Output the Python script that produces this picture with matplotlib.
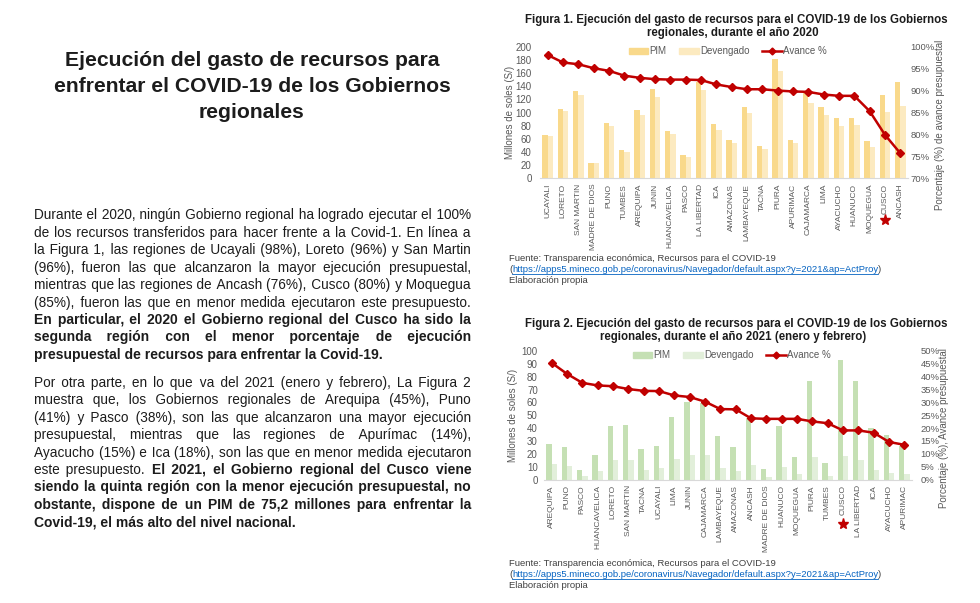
import matplotlib.pyplot as plt
from matplotlib.lines import Line2D
from matplotlib.patches import Patch
from matplotlib.ticker import FuncFormatter

W, H = 980, 603

# Figura 1 (2020)
reg20 = ['UCAYALI', 'LORETO', 'SAN MARTIN', 'MADRE DE DIOS', 'PUNO', 'TUMBES', 'AREQUIPA',
         'JUNIN', 'HUANCAVELICA', 'PASCO', 'LA LIBERTAD', 'ICA', 'AMAZONAS', 'LAMBAYEQUE',
         'TACNA', 'PIURA', 'APURIMAC', 'CAJAMARCA', 'LIMA', 'AYACUCHO', 'HUANUCO',
         'MOQUEGUA', 'CUSCO', 'ANCASH']
pim20 = [66, 106, 133, 24, 84, 43, 104, 136, 72, 35, 147, 82, 58, 109, 49, 181, 58, 129,
         108, 91, 91, 57, 127, 147]
dev20 = [64, 102, 127, 23, 80, 40, 96, 124, 67, 33, 134, 74, 53, 99, 44, 163, 53, 114,
         96, 79, 81, 48, 101, 110]
av20 = [98.1, 96.4, 96.0, 95.1, 94.5, 93.4, 92.9, 92.6, 92.5, 92.5, 92.4, 91.4, 90.8, 90.3,
        90.3, 90.0, 89.8, 89.7, 89.1, 88.8, 88.8, 85.3, 79.9, 75.7]

# Figura 2 (2021, enero y febrero)
reg21 = ['AREQUIPA', 'PUNO', 'PASCO', 'HUANCAVELICA', 'LORETO', 'SAN MARTIN', 'TACNA',
         'UCAYALI', 'LIMA', 'JUNIN', 'CAJAMARCA', 'LAMBAYEQUE', 'AMAZONAS', 'ANCASH',
         'MADRE DE DIOS', 'HUANUCO', 'MOQUEGUA', 'PIURA', 'TUMBES', 'CUSCO', 'LA LIBERTAD',
         'ICA', 'AYACUCHO', 'APURIMAC']
pim21 = [27.6, 25.3, 7.2, 19.3, 42, 42.5, 23.7, 26.3, 49, 60.6, 59.3, 33.5, 25, 47.7, 8.2,
         41.8, 17.5, 76.8, 12.9, 92.8, 76.8, 40, 34.8, 25.8]
dev21 = [12.4, 10.3, 3.1, 7, 15.5, 15, 7.7, 9, 16, 19, 18.8, 9, 6.4, 11.6, 2, 9.8, 3.9,
         17.5, 2.6, 18, 15, 7.2, 5.2, 3.9]
av21 = [45.4, 41.1, 37.6, 36.6, 36.3, 35.2, 34.5, 34.4, 32.7, 32.1, 30.3, 27.4, 27.3, 23.8,
        23.6, 23.6, 23.6, 22.6, 21.9, 19.1, 19.1, 18.2, 14.6, 13.5]

title_lines = ['Ejecución del gasto de recursos para',
               'enfrentar el COVID-19 de los Gobiernos',
               'regionales']

# cada línea: (segmentos (texto, peso), justificar)
para1 = [
    ([('Durante el 2020, ningún Gobierno regional ha logrado ejecutar el 100%', 'normal')], True),
    ([('de los recursos transferidos para hacer frente a la Covid-1. En línea a', 'normal')], True),
    ([('la Figura 1, las regiones de Ucayali (98%), Loreto (96%) y San Martin', 'normal')], True),
    ([('(96%), fueron las que alcanzaron la mayor ejecución presupuestal,', 'normal')], True),
    ([('mientras que las regiones de Ancash (76%), Cusco (80%) y Moquegua', 'normal')], True),
    ([('(85%), fueron las que en menor medida ejecutaron este presupuesto.', 'normal')], True),
    ([('En particular, el 2020 el Gobierno regional del Cusco ha sido la', 'bold')], True),
    ([('segunda región con el menor porcentaje de ejecución', 'bold')], True),
    ([('presupuestal de recursos para enfrentar la Covid-19.', 'bold')], False),
]
para2 = [
    ([('Por otra parte, en lo que va del 2021 (enero y febrero), La Figura 2', 'normal')], True),
    ([('muestra que, los Gobiernos regionales de Arequipa (45%), Puno', 'normal')], True),
    ([('(41%) y Pasco (38%), son las que alcanzaron una mayor ejecución', 'normal')], True),
    ([('presupuestal, mientras que las regiones de Apurímac (14%),', 'normal')], True),
    ([('Ayacucho (15%) e Ica (18%), son las que en menor medida ejecutaron', 'normal')], True),
    ([('este presupuesto.', 'normal'), ('El 2021, el Gobierno regional del Cusco viene', 'bold')], True),
    ([('siendo la quinta región con la menor ejecución presupuestal, no', 'bold')], True),
    ([('obstante, dispone de un PIM de 75,2 millones para enfrentar la', 'bold')], True),
    ([('Covid-19, el más alto del nivel nacional.', 'bold')], False),
]

fuente = 'Fuente: Transparencia económica, Recursos para el COVID-19'
enlace = 'https://apps5.mineco.gob.pe/coronavirus/Navegador/default.aspx?y=2021&ap=ActProy'

plt.rcParams['font.family'] = ['Liberation Sans', 'DejaVu Sans']
fig = plt.figure(figsize=(W / 100, H / 100), dpi=100)
rend = fig.canvas.get_renderer()
TXT = '#1c1c1c'
GRAY = '#595959'
RED = '#C00000'
BODY = {'normal': 9.8, 'bold': 10}


def fx(px):
    return px / W


def fy(py):
    return 1 - py / H


def text_w(s, **kw):
    t = fig.text(0, 0, s, **kw)
    w = t.get_window_extent(renderer=rend).width
    t.remove()
    return w


def space_w(ch, wt):
    return text_w('a' + ch + 'a', fontsize=BODY[wt], fontweight=wt) - \
        text_w('aa', fontsize=BODY[wt], fontweight=wt)


def draw_line(segs, y, x0, x1, justify):
    # una sola cadena por segmento; el justificado se logra con espacios finos
    words = []
    for si, (txt, wt) in enumerate(segs):
        words += [(w, wt, si) for w in txt.split()]
    ws = [text_w(w, fontsize=BODY[wt], fontweight=wt) for w, wt, _ in words]
    sp, fine, fw = {}, {}, {}
    for wt in ('normal', 'bold'):
        sp[wt] = space_w(' ', wt)
        fine[wt], fw[wt] = '\u200a', space_w('\u200a', wt)
        if fw[wt] < 0.3:
            fine[wt], fw[wt] = '\u2009', space_w('\u2009', wt)
    n = len(words)
    pos = []
    x = x0
    gap = (x1 - x0 - sum(ws)) / (n - 1) if (justify and n > 1) else None
    for i in range(n):
        pos.append(x)
        x += ws[i] + (gap if gap is not None else sp[words[i][1]])
    i = 0
    while i < n:
        si, wt = words[i][2], words[i][1]
        start, s = pos[i], words[i][0]
        cur = start + ws[i]
        j = i + 1
        while j < n and words[j][2] == si:
            k = 0
            if gap is not None and fw[wt] > 0.3:
                k = max(0, round((pos[j] - cur - sp[wt]) / fw[wt]))
            s += ' ' + fine[wt] * k + words[j][0]
            cur += sp[wt] + k * fw[wt] + ws[j]
            j += 1
        fig.text(fx(start), fy(y), s, fontsize=BODY[wt], fontweight=wt, color=TXT,
                 va='baseline')
        i = j


# titulo principal
for i, line in enumerate(title_lines):
    fig.text(fx(252), fy(61 + 25.5 * i), line, fontsize=15.2, fontweight='bold',
             color=TXT, ha='center', va='center')

for i, (segs, just) in enumerate(para1):
    draw_line(segs, 219.5 + 17.4 * i, 34, 471, just)
for i, (segs, just) in enumerate(para2):
    draw_line(segs, 387 + 17.4 * i, 34, 471, just)


def chart(rect, regions, pim, dev, avance, c_pim, c_dev, ymax, ystep, pmin, pmax, pstep,
          cusco, star_y, lpad, rpad, title, ylab_x, rlab, rlab_x, rlab_y):
    l, t, r, b = rect
    ax = fig.add_axes([fx(l), fy(b), (r - l) / W, (b - t) / H])
    x = list(range(len(regions)))
    ax.bar([i - 0.17 for i in x], pim, width=0.34, color=c_pim, zorder=2)
    ax.bar([i + 0.17 for i in x], dev, width=0.34, color=c_dev, zorder=2)
    ax.set_xlim(-0.5, len(regions) - 0.5)
    ax.set_ylim(0, ymax)
    ax.set_yticks(range(0, ymax + 1, ystep))
    ax.set_xticks(x)
    ax.set_xticklabels(regions, rotation=90, fontsize=6, color=GRAY)
    ax.tick_params(axis='both', length=0, labelsize=7, labelcolor=GRAY)
    ax.tick_params(axis='x', labelsize=6, pad=4)
    ax.tick_params(axis='y', pad=lpad)
    for s in ['top', 'left', 'right']:
        ax.spines[s].set_visible(False)
    ax.spines['bottom'].set_color('#D9D9D9')

    ax2 = ax.twinx()
    ax2.plot(x, avance, color=RED, lw=1.8, marker='D', ms=4.2, zorder=3)
    ax2.set_ylim(pmin, pmax)
    ax2.set_yticks(range(pmin, pmax + 1, pstep))
    ax2.yaxis.set_major_formatter(FuncFormatter(lambda v, p: f'{v:.0f}%'))
    ax2.tick_params(axis='y', length=0, labelsize=6.8, labelcolor=GRAY, pad=rpad)
    for s in ['top', 'left', 'right', 'bottom']:
        ax2.spines[s].set_visible(False)

    ax2.plot(cusco, star_y, marker='*', color=RED, ms=8, clip_on=False,
             transform=ax2.get_xaxis_transform())

    handles = [Patch(color=c_pim), Patch(color=c_dev),
               Line2D([], [], color=RED, lw=1.8, marker='D', ms=3.5)]
    ax2.legend(handles, ['PIM', 'Devengado', 'Avance %'], ncol=3, frameon=False,
               loc='center', bbox_to_anchor=(0.51, 0.965), fontsize=7, handlelength=2.0,
               handleheight=0.6, handletextpad=0.15, columnspacing=1.3,
               labelcolor=GRAY, borderpad=0)

    fig.text(fx(ylab_x), fy((t + b) / 2), 'Millones de soles (S/)', rotation=90,
             fontsize=7, color=GRAY, ha='center', va='center')
    fig.text(fx(rlab_x), fy(rlab_y), rlab, rotation=90, fontsize=7, color=GRAY,
             ha='center', va='center')
    fig.text(fx(736), fy(t - 27), title[0], fontsize=8.3, fontweight='bold', color=TXT,
             ha='center', va='center')
    fig.text(fx(733), fy(t - 13.5), title[1], fontsize=8.3, fontweight='bold', color=TXT,
             ha='center', va='center')


def source(y0):
    fs = 6.8
    fig.text(fx(509), fy(y0), fuente, fontsize=fs, color='#404040', va='baseline')
    x = 509
    fig.text(fx(x), fy(y0 + 11), '(', fontsize=fs, color='#404040', va='baseline')
    x += text_w('(', fontsize=fs)
    fig.text(fx(x), fy(y0 + 11), enlace, fontsize=fs, color='#0563C1', va='baseline')
    wl = text_w(enlace, fontsize=fs)
    fig.add_artist(Line2D([fx(x), fx(x + wl)], [fy(y0 + 12.5), fy(y0 + 12.5)],
                          color='#0563C1', lw=0.6))
    fig.text(fx(x + wl), fy(y0 + 11), ')', fontsize=fs, color='#404040', va='baseline')
    fig.text(fx(509), fy(y0 + 22), 'Elaboración propia', fontsize=fs, color='#404040',
             va='baseline')


chart((540, 46.7, 908, 178.3), reg20, pim20, dev20, av20, '#F9D98B', '#FCEAC0',
      200, 20, 70, 100, 5, 22, -0.317, 6, 2,
      ('Figura 1. Ejecución del gasto de recursos para el COVID-19 de los Gobiernos',
       'regionales, durante el año 2020'),
      510, 'Porcentaje (%) de avance presupuestal', 940, 125)
source(261)

chart((544, 351, 912, 479.5), reg21, pim21, dev21, av21, '#C5E0B4', '#E2EFDA',
      100, 10, 0, 50, 5, 19, -0.346, 4.5, 6,
      ('Figura 2. Ejecución del gasto de recursos para el COVID-19 de los Gobiernos',
       'regionales, durante el año 2021 (enero y febrero)'),
      513, 'Porcentaje (%), Avance presupuestal', 944, 428)
source(566)

fig.savefig('out.png', dpi=100)
